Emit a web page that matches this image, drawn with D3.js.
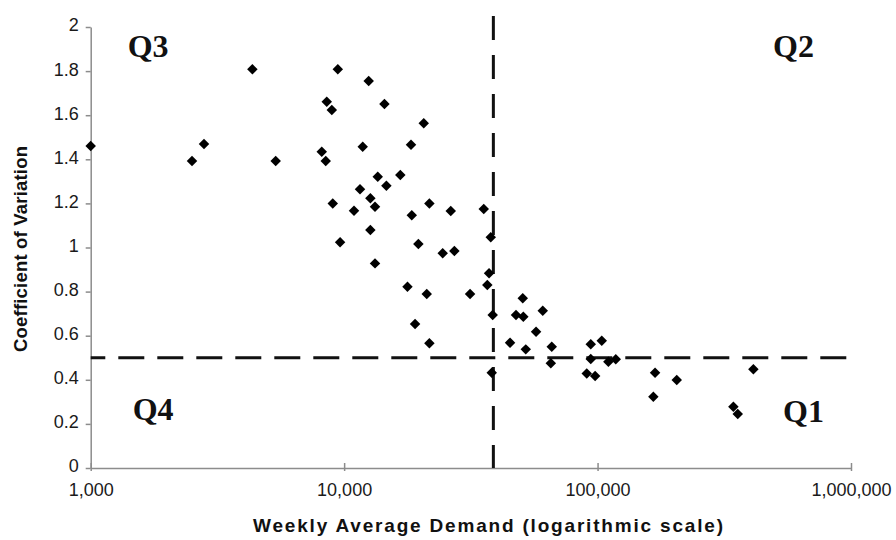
<!DOCTYPE html>
<html>
<head>
<meta charset="utf-8">
<script src="https://cdn.jsdelivr.net/npm/d3@7"></script>
<style>
    body { margin: 0; background: #fff; }
    .axis path, .axis line { stroke: #8c8c8c; stroke-width: 1.5px; }
    .axis text { font-family: "Liberation Sans", Arial, sans-serif; font-size: 18px; fill: #1a1a1a; }
    .title { font-family: "Liberation Sans", Arial, sans-serif; font-weight: bold; fill: #111; }
    .quad { font-family: "Liberation Serif", "Times New Roman", serif; font-weight: bold; font-size: 32px; fill: #111; }
</style>
</head>
<body>
<div class="chart"></div>
<script>
// weekly average demand (log scale) and coefficient of variation
const demand = [
    1000, 4345, 9440, 12500, 8540, 8940, 2800, 2510, 5370, 8160,
    8460, 11840, 13570, 11550, 12690, 13240, 9020, 10940, 12690, 9640,
    13240, 14420, 20610, 18360, 16660, 14680, 21700, 18490, 26350, 35560,
    37900, 19630, 24490, 27230, 37320, 36730, 17780, 21180, 31400, 38560,
    19050, 21700, 38230, 50670, 47660, 50940, 60780, 57200, 45150, 52090,
    65960, 65390, 94000, 103900, 94000, 110300, 118000, 90630, 97800, 168600,
    205300, 166000, 412000, 343500, 357400
];
const cov = [
    1.46, 1.808, 1.808, 1.755, 1.661, 1.624, 1.469, 1.392, 1.392, 1.434,
    1.392, 1.457, 1.321, 1.264, 1.223, 1.185, 1.2, 1.167, 1.079, 1.024,
    0.928, 1.651, 1.563, 1.466, 1.329, 1.28, 1.2, 1.146, 1.166, 1.175,
    1.046, 1.016, 0.974, 0.984, 0.883, 0.83, 0.822, 0.789, 0.789, 0.694,
    0.653, 0.566, 0.432, 0.77, 0.694, 0.686, 0.713, 0.618, 0.568, 0.538,
    0.55, 0.475, 0.561, 0.577, 0.494, 0.482, 0.493, 0.429, 0.417, 0.432,
    0.399, 0.323, 0.448, 0.278, 0.245
];

const xTicks = [1000, 10000, 100000, 1000000];
const xTickLabels = ["1,000", "10,000", "100,000", "1,000,000"];
const yTicks = [0, 0.2, 0.4, 0.6, 0.8, 1, 1.2, 1.4, 1.6, 1.8, 2];
const yTickLabels = ["0", "0.2", "0.4", "0.6", "0.8", "1", "1.2", "1.4", "1.6", "1.8", "2"];

// quadrant split
const demandCut = 38800;
const covCut = 0.5;

const quadrants = ["Q3", "Q2", "Q4", "Q1"];

const width = 896, height = 540;
const margin = { top: 27, right: 45, bottom: 72, left: 90.7 };

var svg = d3.select('.chart').append('svg')
    .attr('width', width)
    .attr('height', height);

/* Scale */
var xScale = d3.scaleLog()
    .domain([1000, 1000000])
    .range([margin.left, width - margin.right]);

var yScale = d3.scaleLinear()
    .domain([0, 2])
    .range([height - margin.bottom, margin.top]);

/* Axes */
var xAxis = d3.axisBottom(xScale)
    .tickValues(xTicks)
    .tickFormat((d, i) => xTickLabels[i])
    .tickSizeInner(3)
    .tickSizeOuter(0)
    .tickPadding(12);

var gx = svg.append('g')
    .attr('class', 'x axis')
    .attr('transform', `translate(0, ${yScale(0)})`)
    .call(xAxis);
// ticks cross the axis line
gx.selectAll('.tick line').attr('y1', -5);

var yAxis = d3.axisLeft(yScale)
    .tickValues(yTicks)
    .tickFormat((d, i) => yTickLabels[i])
    .tickSizeInner(5)
    .tickSizeOuter(0)
    .tickPadding(7);

var gy = svg.append('g')
    .attr('class', 'y axis')
    .attr('transform', `translate(${xScale(1000)}, 0)`)
    .call(yAxis);
gy.selectAll('.tick text').attr('dy', '0.22em');

/* Dashed quadrant lines */
svg.append('line')
    .attr('x1', xScale(1000))
    .attr('x2', xScale(1000000))
    .attr('y1', yScale(covCut))
    .attr('y2', yScale(covCut))
    .attr('stroke', '#111')
    .attr('stroke-width', 3)
    .attr('stroke-dasharray', '26,13')
    .attr('stroke-dashoffset', 11.4);

svg.append('line')
    .attr('x1', xScale(demandCut))
    .attr('x2', xScale(demandCut))
    .attr('y1', yScale(2.05))
    .attr('y2', yScale(0))
    .attr('stroke', '#111')
    .attr('stroke-width', 3)
    .attr('stroke-dasharray', '24,15');

/* Points */
var diamond = d3.symbol().type(d3.symbolSquare).size(55);
svg.append('g')
    .selectAll('path')
    .data(demand.map((d, i) => ({ demand: d, cov: cov[i] })))
    .enter()
    .append('path')
    .attr('d', diamond)
    .attr('transform', d => `translate(${xScale(d.demand)}, ${yScale(d.cov)}) rotate(45)`)
    .attr('fill', '#000');

/* Quadrant labels */
var quadPos = [
    { x: xScale(1000) + 37, y: 57 },
    { x: xScale(1000000) - 78, y: 57 },
    { x: xScale(1000) + 42, y: 420 },
    { x: xScale(1000000) - 68, y: 422 }
];
svg.selectAll('.quad')
    .data(quadrants)
    .enter()
    .append('text')
    .attr('class', 'quad')
    .attr('x', (d, i) => quadPos[i].x)
    .attr('y', (d, i) => quadPos[i].y)
    .text(d => d);

/* Axis titles */
svg.append('text')
    .attr('class', 'title')
    .attr('x', 253)
    .attr('y', 532)
    .attr('font-size', 19)
    .attr('textLength', 470)
    .attr('lengthAdjust', 'spacing')
    .text('Weekly Average Demand (logarithmic scale)');

svg.append('text')
    .attr('class', 'title')
    .attr('transform', 'translate(27, 352) rotate(-90)')
    .attr('font-size', 18.5)
    .attr('textLength', 206)
    .attr('lengthAdjust', 'spacing')
    .text('Coefficient of Variation');
</script>
</body>
</html>
